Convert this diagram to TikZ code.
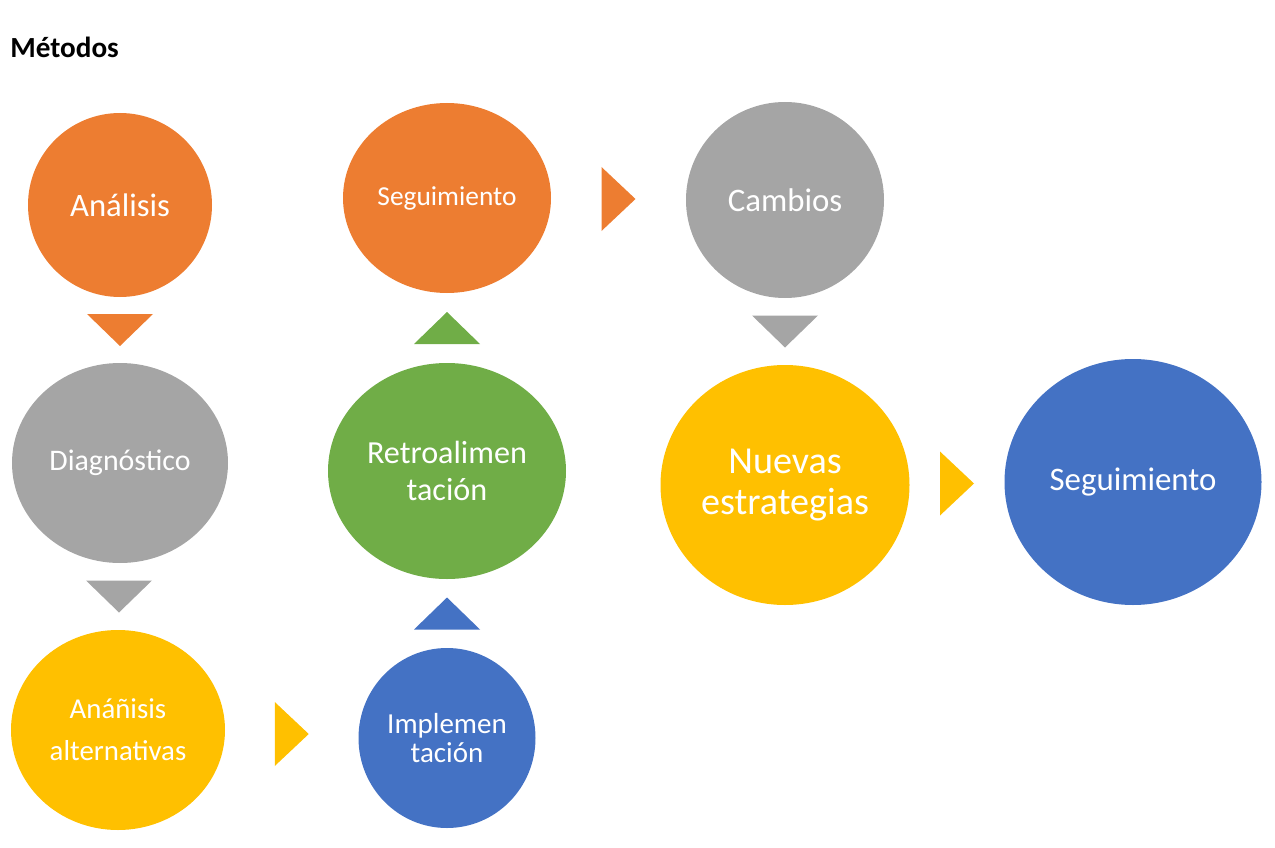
\documentclass[tikz,border=0pt]{standalone}
\usepackage{fontspec}
\setmainfont{Carlito}
\usetikzlibrary{shapes.geometric,calc}
\definecolor{phaseOrange}{HTML}{ED7D31}
\definecolor{phaseGray}{HTML}{A5A5A5}
\definecolor{phaseYellow}{HTML}{FFC000}
\definecolor{phaseBlue}{HTML}{4472C4}
\definecolor{phaseGreen}{HTML}{70AD47}
\newcommand{\fsz}[2]{\fontsize{#1}{#2}\selectfont}
\newcommand{\newPhase}[4]{\node[phase,#3](#1) at #4 {#2};}
\newcommand{\newPointer}[4]{\pic[fill=#4] at ($(#1)!0.5!(#2)$) {#3};}

\begin{document}
\begin{tikzpicture}[
    % one unit is one pixel of the page, y grows downwards
    x=0.02cm,y=-0.02cm,
    % circles of the method
    phase/.style={ellipse,draw=none,inner sep=0pt,text=white,align=center},
    dims/.style 2 args={minimum width=#1*0.02cm,minimum height=#2*0.02cm},
    % small triangles between the circles
    tridown/.pic={\fill (-33,-16) -- (33,-16) -- (0,16) -- cycle;},
    triup/.pic={\fill (-33,16) -- (33,16) -- (0,-16) -- cycle;},
    triright/.pic={\fill (-17,-32) -- (17,0) -- (-17,32) -- cycle;}
    ]
    \useasboundingbox (0,0) rectangle (1275,848);

    \node[anchor=west,inner sep=0pt,font=\fsz{16.6pt}{19pt}\bfseries] (title) at (10,47) {Métodos};

    \newPhase{ana}{Análisis}{fill=phaseOrange,dims={184}{184},font=\fsz{18.6pt}{22pt}}{(120,205)}
    \newPhase{diag}{Diagnóstico}{fill=phaseGray,dims={216}{200},font=\fsz{17pt}{20pt}}{(120,463)}
    \newPhase{alt}{Anáñisis\\alternativas}{fill=phaseYellow,dims={214}{200},font=\fsz{16.4pt}{23.8pt}}{(118,730)}
    \newPhase{impl}{Implemen\\tación}{fill=phaseBlue,dims={177}{180},font=\fsz{16.5pt}{17pt}}{(447,738)}
    \newPhase{retro}{Retroalimen\\tación}{fill=phaseGreen,dims={238}{216},font=\fsz{18.3pt}{21.5pt}}{(447,471)}
    \newPhase{seg}{Seguimiento}{fill=phaseOrange,dims={208}{190},font=\fsz{15.6pt}{18pt}}{(447,198)}
    \newPhase{camb}{Cambios}{fill=phaseGray,dims={198}{196},font=\fsz{18.7pt}{22pt}}{(785,200)}
    \newPhase{nuev}{Nuevas\\estrategias}{fill=phaseYellow,dims={249}{240},font=\fsz{21.7pt}{23.8pt}}{(785,485)}
    \newPhase{segb}{Seguimiento}{fill=phaseBlue,dims={257}{246},font=\fsz{18.7pt}{22pt}}{(1133,482)}

    \newPointer{ana.south}{diag.north}{tridown}{phaseOrange}
    \newPointer{diag.south}{alt.north}{tridown}{phaseGray}
    \newPointer{alt.east}{impl.west}{triright}{phaseYellow}
    \newPointer{impl.north}{retro.south}{triup}{phaseBlue}
    \newPointer{retro.north}{seg.south}{triup}{phaseGreen}
    \newPointer{seg.east}{camb.west}{triright}{phaseOrange}
    \newPointer{camb.south}{nuev.north}{tridown}{phaseGray}
    \newPointer{nuev.east}{segb.west}{triright}{phaseYellow}
  \end{tikzpicture}
\end{document}
